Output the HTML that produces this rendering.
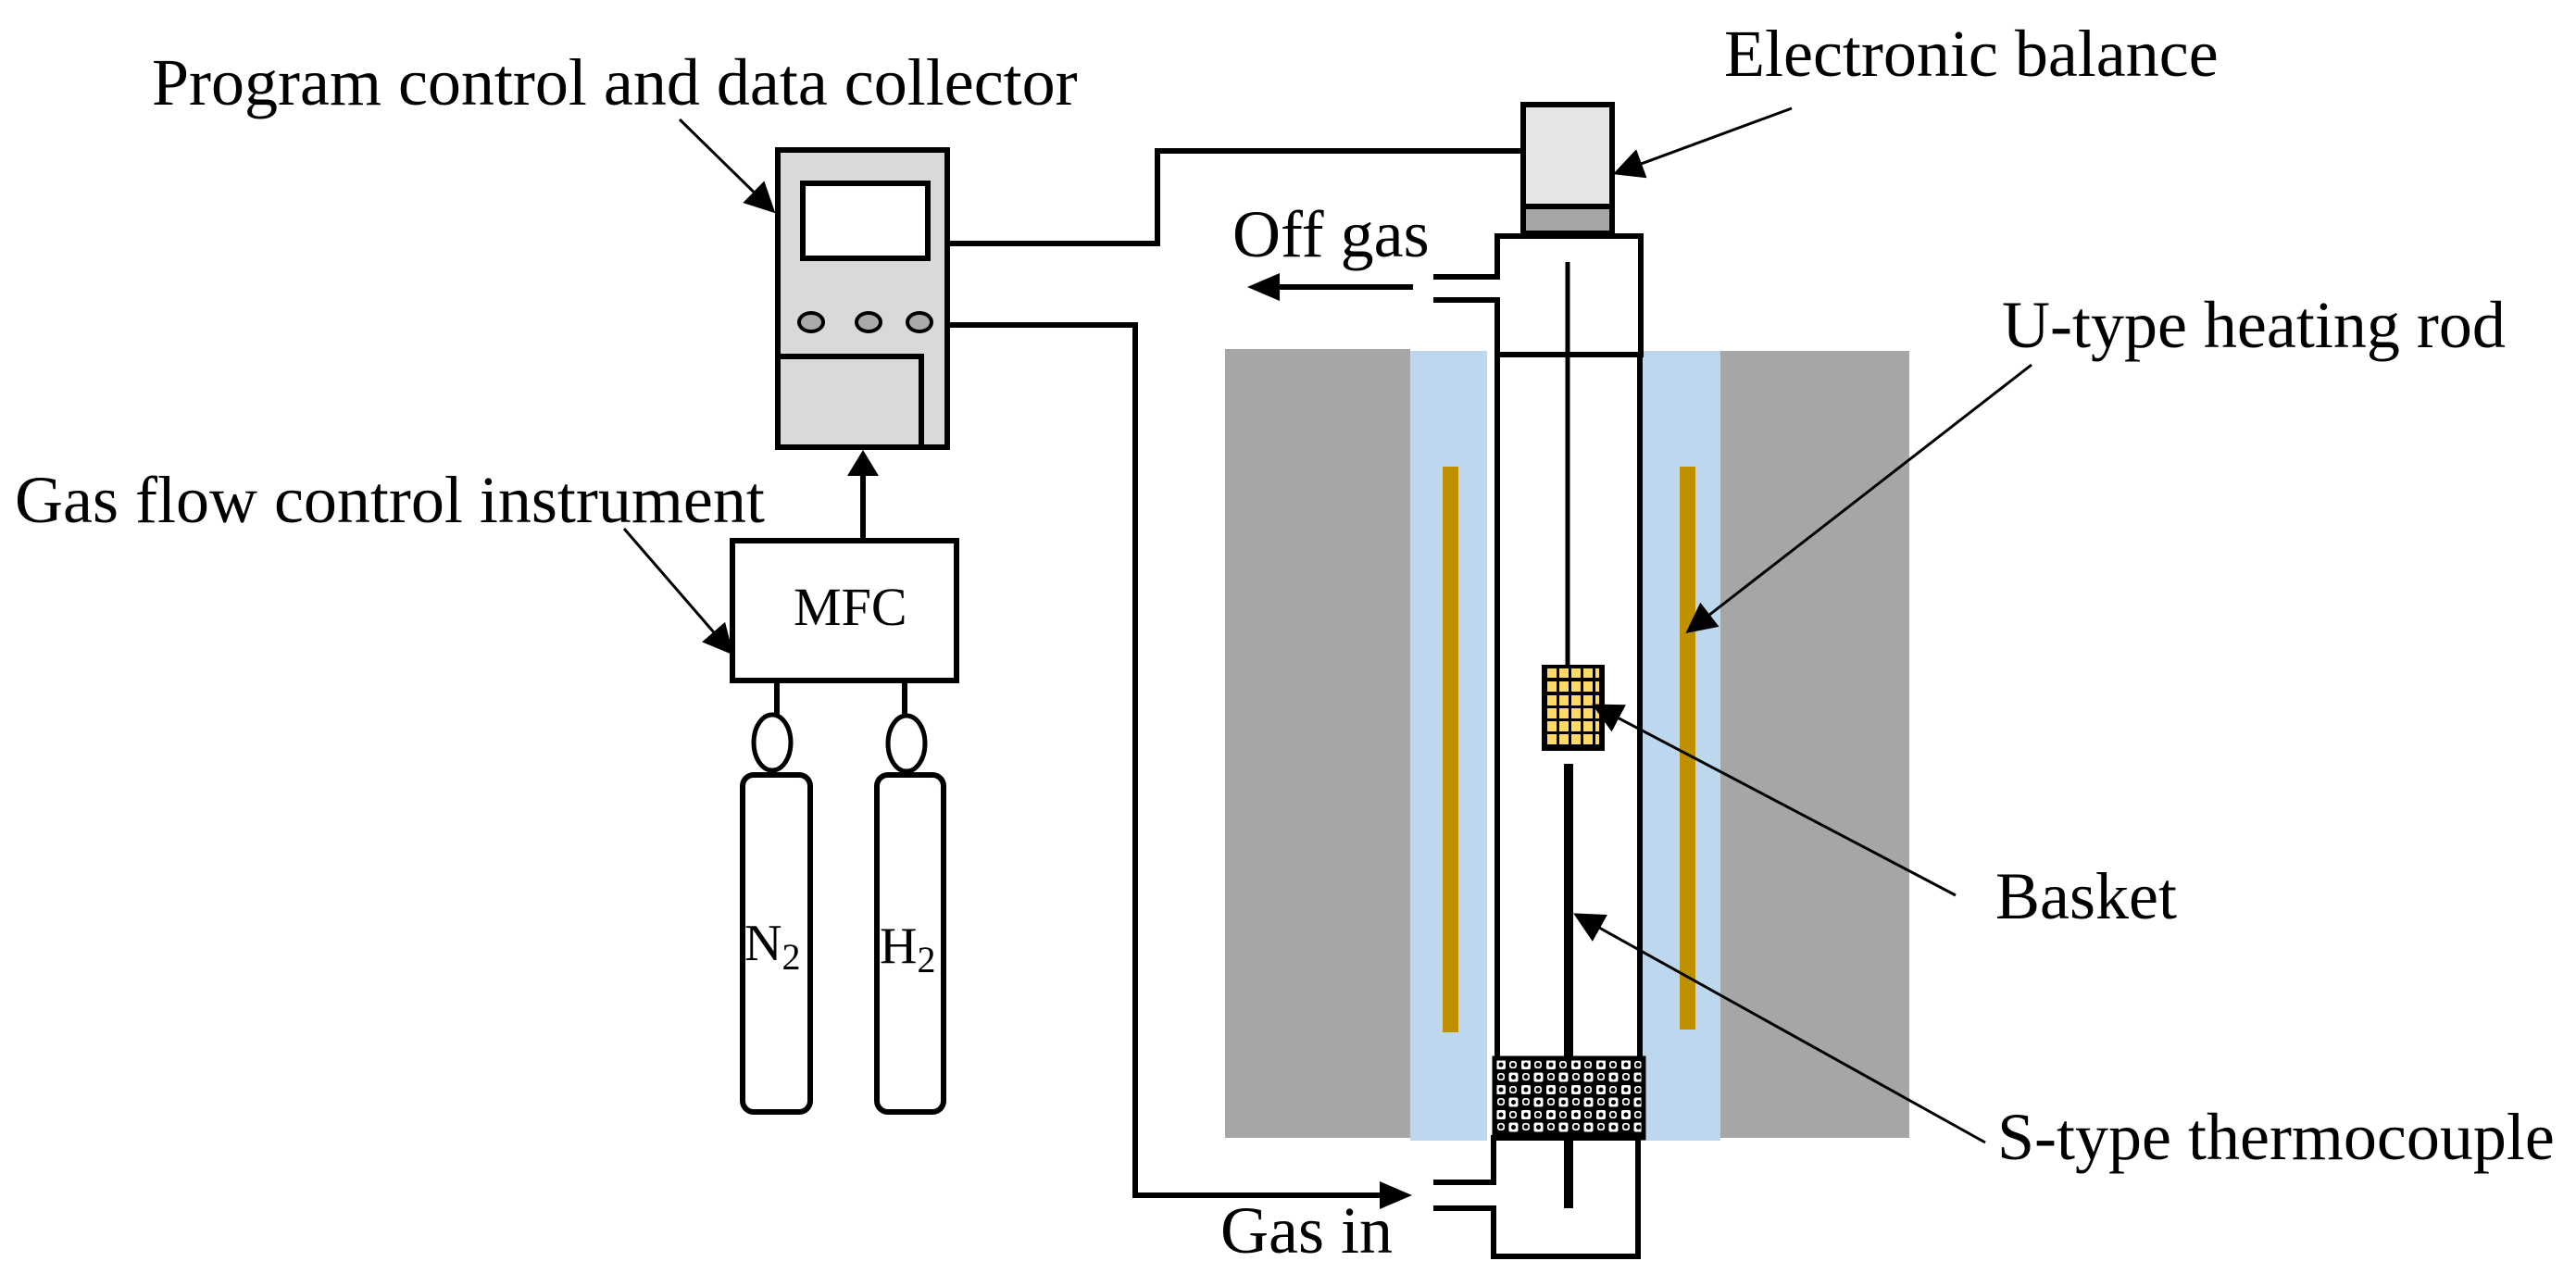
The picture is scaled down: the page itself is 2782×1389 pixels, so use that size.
<!DOCTYPE html>
<html><head><meta charset="utf-8"><style>
html,body{margin:0;padding:0;background:#fff}
svg{display:block}
text{font-family:"Liberation Serif",serif;fill:#000}
</style></head><body>
<svg width="2782" height="1389" viewBox="0 0 2782 1389" xmlns="http://www.w3.org/2000/svg">
<defs>
<marker id="ah" viewBox="0 0 10 10" refX="9" refY="5" markerWidth="11" markerHeight="11" markerUnits="strokeWidth" orient="auto"><path d="M0,0 L10,5 L0,10 z" fill="#000"/></marker>
<pattern id="plug" x="1614" y="1143" width="27" height="27" patternUnits="userSpaceOnUse">
<rect width="27" height="27" fill="#000"/>
<rect x="2" y="2" width="10" height="10" rx="2" fill="#fff"/>
<rect x="15.5" y="15.5" width="10" height="10" rx="2" fill="#fff"/>
<circle cx="7" cy="7" r="2.5" fill="#000"/>
<circle cx="20.5" cy="20.5" r="2.5" fill="#000"/>
<rect x="16" y="3" width="8" height="8" rx="3" fill="#fff"/>
<circle cx="20" cy="7" r="2.5" fill="#000"/>
<rect x="3" y="16" width="8" height="8" rx="3" fill="#fff"/>
<circle cx="7" cy="20" r="2.5" fill="#000"/>
</pattern>
</defs>

<!-- Labels -->
<text x="164" y="113" font-size="72">Program control and data collector</text>
<text x="16" y="564" font-size="72">Gas flow control instrument</text>
<text x="1862" y="82" font-size="72">Electronic balance</text>
<text x="1331" y="277" font-size="72">Off gas</text>
<text x="2162" y="375" font-size="72">U-type heating rod</text>
<text x="2155" y="992" font-size="72">Basket</text>
<text x="2157" y="1252" font-size="72">S-type thermocouple</text>
<text x="1318" y="1353" font-size="72">Gas in</text>

<!-- Controller -->
<rect x="840" y="162" width="183" height="321" fill="#d9d9d9" stroke="#000" stroke-width="6"/>
<rect x="867" y="198" width="135" height="81" fill="#fff" stroke="#000" stroke-width="6"/>
<ellipse cx="876" cy="348" rx="13" ry="10" fill="#aaa" stroke="#000" stroke-width="4"/>
<ellipse cx="938" cy="348" rx="13" ry="10" fill="#aaa" stroke="#000" stroke-width="4"/>
<ellipse cx="993" cy="348" rx="13" ry="10" fill="#aaa" stroke="#000" stroke-width="4"/>
<polyline points="840,385 995,385 995,483" fill="none" stroke="#000" stroke-width="6"/>

<!-- Wires -->
<polyline points="1026,263 1250,263 1250,163 1642,163" fill="none" stroke="#000" stroke-width="6"/>
<polyline points="1026,351 1226,351 1226,1291 1500,1291" fill="none" stroke="#000" stroke-width="6"/>
<path d="M1490,1276 L1525,1291 L1490,1306 z" fill="#000"/>

<!-- MFC -->
<line x1="932" y1="581" x2="932" y2="505" stroke="#000" stroke-width="6"/>
<path d="M915,514 L932,486 L949,514 z" fill="#000"/>
<rect x="791" y="584" width="242" height="151" fill="#fff" stroke="#000" stroke-width="6"/>
<text x="857" y="675" font-size="58">MFC</text>

<!-- Cylinders -->
<line x1="839" y1="738" x2="839" y2="772" stroke="#000" stroke-width="6"/>
<line x1="977" y1="738" x2="977" y2="772" stroke="#000" stroke-width="6"/>
<ellipse cx="834" cy="802" rx="20" ry="30" fill="#fff" stroke="#000" stroke-width="5"/>
<ellipse cx="979" cy="803" rx="20" ry="30" fill="#fff" stroke="#000" stroke-width="5"/>
<rect x="802" y="837" width="73" height="364" rx="12" fill="#fff" stroke="#000" stroke-width="6"/>
<rect x="947" y="837" width="72" height="364" rx="12" fill="#fff" stroke="#000" stroke-width="6"/>
<text x="804" y="1037" font-size="56">N<tspan font-size="40" dy="10">2</tspan></text>
<text x="950" y="1040" font-size="56">H<tspan font-size="40" dy="10">2</tspan></text>

<!-- Furnace -->
<rect x="1323" y="377" width="200" height="852" fill="#a6a6a6"/>
<rect x="1858" y="379" width="204" height="850" fill="#a6a6a6"/>
<rect x="1523" y="379" width="83" height="853" fill="#bdd7ee"/>
<rect x="1772" y="379" width="86" height="853" fill="#bdd7ee"/>
<rect x="1606" y="379" width="166" height="853" fill="#fff"/>
<rect x="1558" y="504" width="17" height="611" fill="#bf9000"/>
<rect x="1814" y="504" width="17" height="608" fill="#bf9000"/>

<!-- Tube -->
<line x1="1617" y1="386" x2="1617" y2="1143" stroke="#000" stroke-width="6"/>
<line x1="1771" y1="386" x2="1771" y2="1143" stroke="#000" stroke-width="6"/>
<rect x="1614" y="1143" width="161" height="86" fill="url(#plug)"/>
<rect x="1614" y="1143" width="161" height="86" fill="none" stroke="#000" stroke-width="5"/>
<rect x="1617" y="255" width="155" height="128" fill="#fff" stroke="#000" stroke-width="6"/>
<rect x="1610" y="302" width="12" height="19" fill="#fff"/>
<line x1="1548" y1="299" x2="1617" y2="299" stroke="#000" stroke-width="6"/>
<line x1="1548" y1="324" x2="1617" y2="324" stroke="#000" stroke-width="6"/>
<rect x="1613" y="1229" width="156" height="128" fill="#fff" stroke="#000" stroke-width="6"/>
<rect x="1607" y="1280" width="12" height="22" fill="#fff"/>
<line x1="1548" y1="1277" x2="1616" y2="1277" stroke="#000" stroke-width="6"/>
<line x1="1548" y1="1305" x2="1616" y2="1305" stroke="#000" stroke-width="6"/>

<!-- Off gas arrow -->
<line x1="1526" y1="310" x2="1370" y2="310" stroke="#000" stroke-width="6"/>
<path d="M1382,295 L1347,310 L1382,325 z" fill="#000"/>

<!-- Balance -->
<rect x="1645" y="113" width="96" height="136" fill="#e6e6e6" stroke="#000" stroke-width="6"/>
<rect x="1648" y="226" width="90" height="23" fill="#a6a6a6"/>
<line x1="1645" y1="223" x2="1741" y2="223" stroke="#000" stroke-width="6"/>

<!-- Hanger, basket, thermocouple -->
<line x1="1693" y1="283" x2="1693" y2="718" stroke="#000" stroke-width="5"/>
<rect x="1665" y="718" width="68" height="93" fill="#000"/>
<g fill="#ffd966">
<rect x="1671" y="722" width="10" height="10"/><rect x="1684" y="722" width="10" height="10"/><rect x="1697" y="722" width="10" height="10"/><rect x="1710" y="722" width="10" height="10"/><rect x="1723" y="722" width="4" height="10"/>
<rect x="1671" y="736" width="10" height="11"/><rect x="1684" y="736" width="10" height="11"/><rect x="1697" y="736" width="10" height="11"/><rect x="1710" y="736" width="10" height="11"/><rect x="1723" y="736" width="4" height="11"/>
<rect x="1671" y="751" width="10" height="11"/><rect x="1684" y="751" width="10" height="11"/><rect x="1697" y="751" width="10" height="11"/><rect x="1710" y="751" width="10" height="11"/><rect x="1723" y="751" width="4" height="11"/>
<rect x="1671" y="765" width="10" height="11"/><rect x="1684" y="765" width="10" height="11"/><rect x="1697" y="765" width="10" height="11"/><rect x="1710" y="765" width="10" height="11"/><rect x="1723" y="765" width="4" height="11"/>
<rect x="1671" y="779" width="10" height="11"/><rect x="1684" y="779" width="10" height="11"/><rect x="1697" y="779" width="10" height="11"/><rect x="1710" y="779" width="10" height="11"/><rect x="1723" y="779" width="4" height="11"/>
<rect x="1671" y="793" width="10" height="11"/><rect x="1684" y="793" width="10" height="11"/><rect x="1697" y="793" width="10" height="11"/><rect x="1710" y="793" width="10" height="11"/><rect x="1723" y="793" width="4" height="11"/>
</g>
<rect x="1689" y="825" width="10" height="318" fill="#000"/>
<rect x="1689" y="1229" width="10" height="76" fill="#000"/>

<!-- Leader arrows -->
<g stroke="#000" stroke-width="3" fill="none" marker-end="url(#ah)">
<line x1="734" y1="129" x2="835" y2="228"/>
<line x1="674" y1="571" x2="790" y2="705"/>
<line x1="1935" y1="117" x2="1745" y2="187"/>
<line x1="2194" y1="394" x2="1823" y2="682"/>
<line x1="2112" y1="967" x2="1722" y2="762"/>
<line x1="2144" y1="1234" x2="1702" y2="988"/>
</g>
</svg>
</body></html>
